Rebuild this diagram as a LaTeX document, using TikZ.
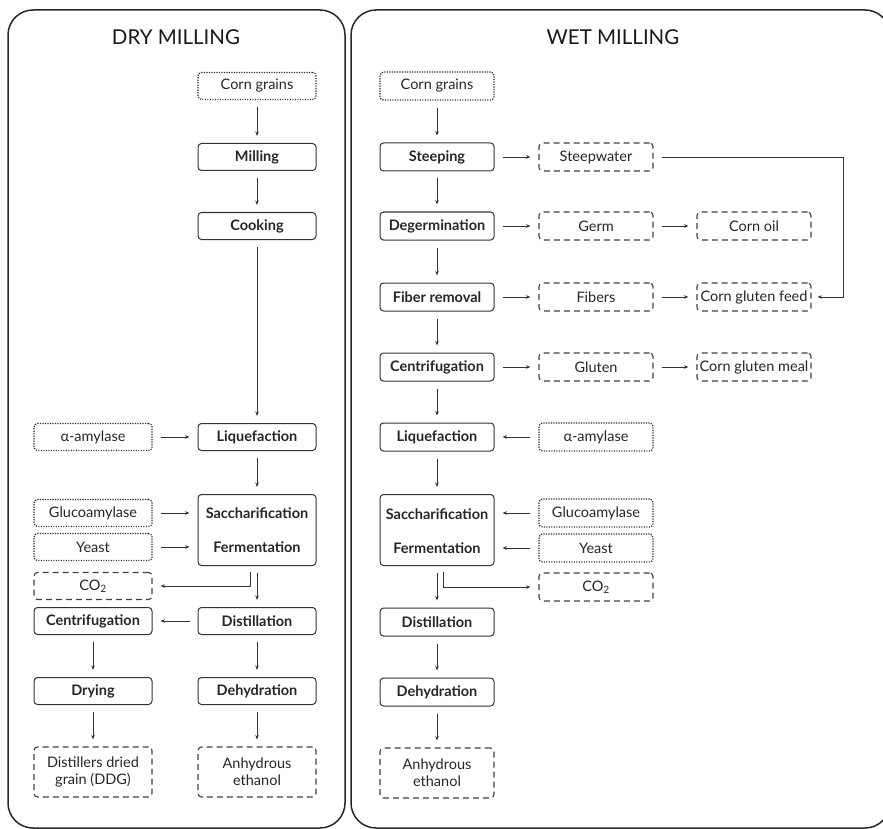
\documentclass[tikz,border=0pt]{standalone}
\usepackage{fontspec}
\setmainfont{Lato}
\usetikzlibrary{arrows.meta}
\begin{document}
\begin{tikzpicture}[x=1pt,y=-1pt,
  box/.style={rounded corners=3.5pt, line width=1pt, draw=black!80, text=black!85,
     minimum width=118pt, minimum height=27pt, inner sep=1pt, align=center,
     font=\fontsize{14.5}{17}\selectfont},
  wbox/.style={box, minimum width=114pt, minimum height=28pt},
  proc/.style={font=\fontsize{14.5}{17}\selectfont\bfseries},
  inp/.style={line width=1.2pt, dash pattern=on 1.2pt off 1.3pt, draw=black!85},
  outp/.style={line width=1.1pt, dash pattern=on 6pt off 4pt, draw=black!75},
  tall/.style={minimum height=50pt},
  arr/.style={-{Stealth[length=4.5pt,width=3.5pt]}, line width=0.7pt, draw=black!80},
  varr/.style={arr, shorten <=7pt, shorten >=7pt},
  harr/.style={arr, shorten <=8pt, shorten >=8pt},
  title/.style={font=\fontsize{20.5}{24}\selectfont, text=black!90},
  panel/.style={line width=1.5pt, draw=black!85, rounded corners=25pt}
]
\useasboundingbox (0,0) rectangle (883,829);
% panels
\draw[panel] (8,10) rectangle (345,828);
\draw[panel] (351,10) rectangle (890,828);
\node[title] (tdry) at (176,37) {DRY MILLING};
\node[title] (twet) at (613,37) {WET MILLING};

% ---------- DRY MILLING ----------
\node[box,inp] (corn1) at (257,86) {Corn grains};
\node[box,proc] (mill) at (257,157) {Milling};
\node[box,proc] (cook) at (257,226) {Cooking};
\node[box,proc] (liq1) at (257,437) {Liquefaction};
\node[box,inp] (amy1) at (93,437) {α-amylase};
\node[box,minimum height=71pt] (sf1) at (257,530) {};
\node[proc,text=black!85] (sf1a) at (257,513) {Saccharification};
\node[proc,text=black!85] (sf1b) at (257,547) {Fermentation};
\node[box,inp] (gluc1) at (93,513) {Glucoamylase};
\node[box,inp] (yeast1) at (93,547) {Yeast};
\node[box,outp] (co2a) at (93,586) {CO\textsubscript{2}};
\node[box,proc] (cent1) at (93,621) {Centrifugation};
\node[box,proc] (dist1) at (257,621) {Distillation};
\node[box,proc] (dryg) at (93,691) {Drying};
\node[box,proc] (dehy1) at (257,691) {Dehydration};
\node[box,outp,tall] (ddg) at (93,772) {Distillers dried\\grain (DDG)};
\node[box,outp,tall] (eth1) at (257,772) {Anhydrous\\ethanol};

\draw[varr] (corn1) -- (mill);
\draw[varr] (mill) -- (cook);
\draw[varr] (cook) -- (liq1);
\draw[harr] (amy1) -- (liq1);
\draw[varr] (liq1) -- (sf1);
\draw[harr] (gluc1) -- (gluc1 -| sf1.west);
\draw[harr] (yeast1) -- (yeast1 -| sf1.west);
\draw[arr, shorten <=6pt, shorten >=8pt] ([xshift=-7pt]sf1.south) |- (co2a.east);
\draw[varr] (sf1) -- (dist1);
\draw[harr] (dist1) -- (cent1);
\draw[varr] (cent1) -- (dryg);
\draw[varr] (dist1) -- (dehy1);
\draw[varr] (dryg) -- (ddg);
\draw[varr] (dehy1) -- (eth1);

% ---------- WET MILLING ----------
\node[wbox,inp] (corn2) at (437,86) {Corn grains};
\node[wbox,proc] (steep) at (437,157) {Steeping};
\node[wbox,outp] (sw) at (596,157) {Steepwater};
\node[wbox,proc] (degerm) at (437,226) {Degermination};
\node[wbox,outp] (germ) at (596,226) {Germ};
\node[wbox,outp] (oil) at (754,226) {Corn oil};
\node[wbox,proc] (fiber) at (437,297) {Fiber removal};
\node[wbox,outp] (fibers) at (596,297) {Fibers};
\node[wbox,outp] (cgf) at (754,297) {Corn gluten feed};
\node[wbox,proc] (cent2) at (437,367) {Centrifugation};
\node[wbox,outp] (gluten) at (596,367) {Gluten};
\node[wbox,outp] (cgm) at (754,367) {Corn gluten meal};
\node[wbox,proc] (liq2) at (437,437) {Liquefaction};
\node[wbox,inp] (amy2) at (596,437) {α-amylase};
\node[wbox,minimum height=71pt] (sf2) at (437,530) {};
\node[proc,text=black!85] (sf2a) at (437,514) {Saccharification};
\node[proc,text=black!85] (sf2b) at (437,548) {Fermentation};
\node[wbox,inp] (gluc2) at (596,513) {Glucoamylase};
\node[wbox,inp] (yeast2) at (596,548) {Yeast};
\node[wbox,outp] (co2b) at (596,587) {CO\textsubscript{2}};
\node[wbox,proc] (dist2) at (437,622) {Distillation};
\node[wbox,proc] (dehy2) at (437,692) {Dehydration};
\node[wbox,outp,tall] (eth2) at (437,773) {Anhydrous\\ethanol};
\coordinate (swturn) at (843,157);

\draw[varr] (corn2) -- (steep);
\draw[harr] (steep) -- (sw);
\draw[arr, shorten <=8pt, shorten >=6pt] (sw.east) -- (swturn) |- (cgf.east);
\draw[varr] (steep) -- (degerm);
\draw[harr] (degerm) -- (germ);
\draw[harr] (germ) -- (oil);
\draw[varr] (degerm) -- (fiber);
\draw[harr] (fiber) -- (fibers);
\draw[harr] (fibers) -- (cgf);
\draw[varr] (fiber) -- (cent2);
\draw[harr] (cent2) -- (gluten);
\draw[harr] (gluten) -- (cgm);
\draw[varr] (cent2) -- (liq2);
\draw[harr] (amy2) -- (liq2);
\draw[varr] (liq2) -- (sf2);
\draw[harr] (gluc2) -- (gluc2 -| sf2.east);
\draw[harr] (yeast2) -- (yeast2 -| sf2.east);
\draw[arr, shorten <=6pt, shorten >=8pt] ([xshift=6pt]sf2.south) |- (co2b.west);
\draw[varr] (sf2) -- (dist2);
\draw[varr] (dist2) -- (dehy2);
\draw[varr] (dehy2) -- (eth2);
\end{tikzpicture}
\end{document}
